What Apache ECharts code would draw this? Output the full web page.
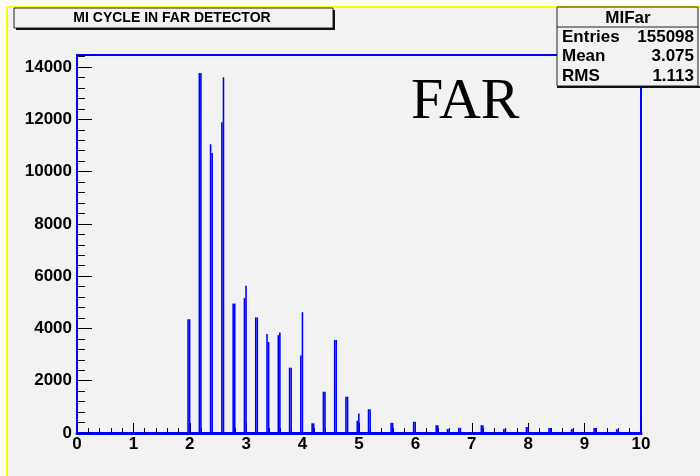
<!DOCTYPE html>
<html>
<head>
<meta charset="utf-8">
<script src="https://cdn.jsdelivr.net/npm/echarts@6/dist/echarts.min.js"></script>
<style>
  html, body { margin: 0; padding: 0; background: #ffffff; }
  #chart { width: 700px; height: 476px; }
</style>
</head>
<body>
<div id="chart"></div>
<script>
// MI cycle histogram, far detector. Each peak is two adjacent narrow bins.
const spikeLowEdge = [1.955, 2.155, 2.355, 2.41, 2.555, 2.755, 2.955, 3.155, 3.355, 3.555, 3.755, 3.955, 4.155, 4.355, 4.555, 4.755, 4.955, 5.155,
                      5.555, 5.955, 6.355, 6.555, 6.755, 7.155, 7.555, 7.955, 8.355, 8.755, 9.155, 9.555];
const leftBinCounts  = [4350, 13770, 11050, 40, 11890, 4950, 5160, 4420, 3790, 3740, 2500, 2960, 370, 1580, 3560, 1390, 470, 910,
                        390, 430, 300, 150, 200, 300, 150, 230, 190, 150, 190, 150];
const rightBinCounts = [4350, 13770, 10710, 40, 13610, 4950, 5630, 4420, 3480, 3840, 2500, 4620, 370, 1580, 3560, 1390, 750, 910,
                        390, 430, 300, 150, 200, 300, 150, 230, 190, 150, 190, 150];
const binWidth = 0.028;

const xTickValues = [0, 1, 2, 3, 4, 5, 6, 7, 8, 9, 10];
const yTickValues = [0, 2000, 4000, 6000, 8000, 10000, 12000, 14000];

const statsTitle = 'MIFar';
const statsRows = [['Entries', '155098'], ['Mean', '3.075'], ['RMS', '1.113']];
const histTitle = 'MI CYCLE IN FAR DETECTOR';
const detectorLabel = 'FAR';

const bins = [];
spikeLowEdge.forEach((x, i) => {
  bins.push([x, x + binWidth, leftBinCounts[i]]);
  bins.push([x + binWidth, x + 2 * binWidth, rightBinCounts[i]]);
});

const sans = '"Liberation Sans", Arial, sans-serif';
const chart = echarts.init(document.getElementById('chart'), null, { renderer: 'canvas' });

const statsGraphics = [];
statsGraphics.push({ type: 'rect', shape: { x: 557, y: 7, width: 141, height: 79 },
  style: { fill: '#f2f2f2', stroke: '#222', lineWidth: 1 }, z: 10 });
statsGraphics.push({ type: 'line', shape: { x1: 557, y1: 87, x2: 700, y2: 87 },
  style: { stroke: '#111', lineWidth: 2 }, z: 10 });
statsGraphics.push({ type: 'line', shape: { x1: 557, y1: 27, x2: 698, y2: 27 },
  style: { stroke: '#222', lineWidth: 1 }, z: 10 });
statsGraphics.push({ type: 'text', x: 628, y: 18,
  style: { text: statsTitle, font: 'bold 17px ' + sans, fill: '#000', align: 'center', verticalAlign: 'middle' }, z: 11 });
statsRows.forEach((row, i) => {
  const y = 37 + i * 19.5;
  statsGraphics.push({ type: 'text', x: 562, y: y,
    style: { text: row[0], font: 'bold 17px ' + sans, fill: '#000', align: 'left', verticalAlign: 'middle' }, z: 11 });
  statsGraphics.push({ type: 'text', x: 694, y: y,
    style: { text: row[1], font: 'bold 17px ' + sans, fill: '#000', align: 'right', verticalAlign: 'middle' }, z: 11 });
});

chart.setOption({
  animation: false,
  backgroundColor: '#ffffff',
  graphic: [
    { type: 'rect', shape: { x: 7, y: 7, width: 700, height: 476 }, style: { fill: '#f2f2f2' }, z: -10 },
    { type: 'line', shape: { x1: 7, y1: 7, x2: 700, y2: 7 }, style: { stroke: '#ffff00', lineWidth: 2 }, z: 9 },
    { type: 'line', shape: { x1: 7, y1: 7, x2: 7, y2: 476 }, style: { stroke: '#ffff00', lineWidth: 2 }, z: 9 },
    // title pave with shadow
    { type: 'rect', shape: { x: 14, y: 8, width: 319, height: 20 },
      style: { fill: '#f2f2f2', stroke: '#222', lineWidth: 1 }, z: 10 },
    { type: 'polyline', shape: { points: [[334, 10], [334, 29], [16, 29]] },
      style: { stroke: '#111', lineWidth: 2, fill: null }, z: 10 },
    { type: 'text', x: 172, y: 18,
      style: { text: histTitle, font: 'bold 14px ' + sans, fill: '#000', align: 'center', verticalAlign: 'middle' }, z: 11 },
    { type: 'text', x: 411, y: 103,
      style: { text: detectorLabel, font: '58px "Liberation Serif", "Times New Roman", serif', fill: '#000',
               align: 'left', verticalAlign: 'middle' }, z: 11 }
  ].concat(statsGraphics),
  grid: {
    left: 77, right: 59, top: 55, bottom: 43,
    show: true, borderColor: '#0000ff', borderWidth: 2, backgroundColor: 'transparent'
  },
  xAxis: {
    type: 'value', min: xTickValues[0], max: xTickValues[xTickValues.length - 1], interval: 1,
    axisLine: { show: true, onZero: false, lineStyle: { color: '#0000ff', width: 3 } },
    axisTick: { show: true, inside: true, length: 10, lineStyle: { color: '#000', width: 1 } },
    minorTick: { show: true, splitNumber: 5, length: 5, lineStyle: { color: '#000', width: 1 } },
    splitLine: { show: false },
    axisLabel: { color: '#000', fontWeight: 'bold', fontSize: 17, fontFamily: sans, margin: 3 }
  },
  yAxis: {
    type: 'value', min: yTickValues[0], max: 14460, interval: 2000,
    axisLine: { show: true, lineStyle: { color: '#0000ff', width: 2 } },
    axisTick: { show: true, inside: true, length: 15, lineStyle: { color: '#000', width: 1 } },
    minorTick: { show: true, splitNumber: 5, length: 8, lineStyle: { color: '#000', width: 1 } },
    splitLine: { show: false },
    axisLabel: { color: '#000', fontWeight: 'bold', fontSize: 17, fontFamily: sans, margin: 5,
                 showMaxLabel: false,
                 formatter: v => (yTickValues.indexOf(v) >= 0 ? String(v) : '') }
  },
  series: [{
    type: 'custom',
    data: bins,
    encode: { x: [0, 1], y: 2 },
    renderItem: function (params, api) {
      const lo = api.value(0), hi = api.value(1), count = api.value(2);
      const top = api.coord([lo, count]);
      const base = api.coord([hi, 0]);
      return {
        type: 'rect',
        shape: { x: top[0], y: top[1], width: base[0] - top[0], height: base[1] - top[1] },
        style: { fill: '#0000ff' }
      };
    }
  }]
});
</script>
</body>
</html>
